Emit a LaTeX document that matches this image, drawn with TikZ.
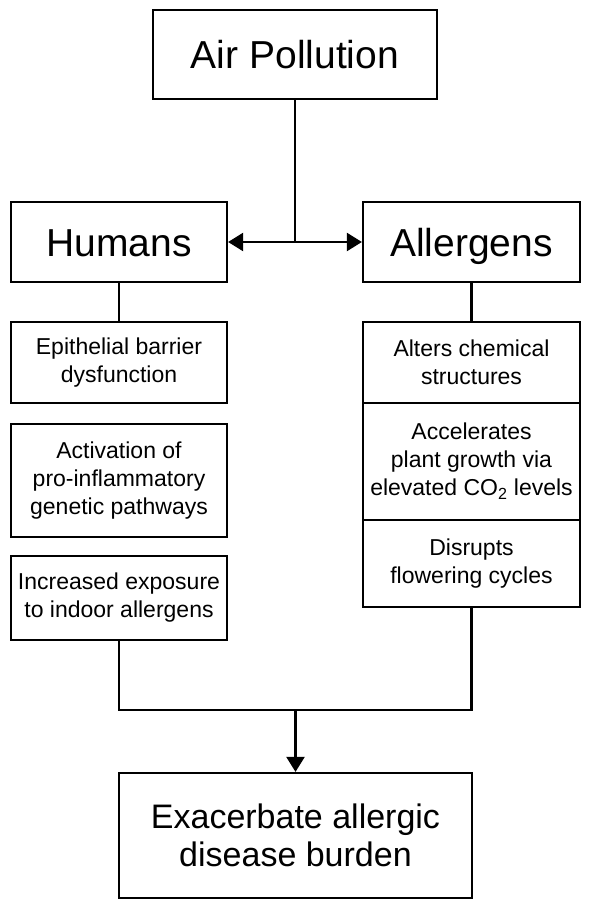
\documentclass[tikz,border=0pt]{standalone}
\usepackage{fontspec}
\setmainfont{Liberation Sans}
\usetikzlibrary{arrows.meta}
\begin{document}
\begin{tikzpicture}[x=1pt,y=-1pt,
  box/.style={draw=black,line width=2.2pt,rectangle,inner sep=0pt,align=center,
    minimum width=#1},
  box/.default=216pt,
  bigtext/.style={font=\fontsize{39}{45}\selectfont,text height=28pt,text depth=0pt},
  bodytext/.style={font=\fontsize{23}{28}\selectfont},
  endtext/.style={font=\fontsize{34}{38}\selectfont},
  conn/.style={line width=2.2pt,line join=miter},
  arr/.style={line width=2.2pt,-{Triangle[length=15pt,width=18pt]}}]
\useasboundingbox[fill=white] (0,0) rectangle (590,910);

\node[box=284pt,minimum height=89pt,bigtext] (air) at (295,54.5) {Air Pollution};
\node[box=216pt,minimum height=80pt,bigtext] (hum) at (119,242) {Humans};
\node[box=217pt,minimum height=80pt,bigtext] (all) at (471.5,242) {Allergens};

\node[box=216pt,minimum height=81pt,bodytext] (epi) at (119,362.5) {Epithelial barrier\\dysfunction};
\node[box=216pt,minimum height=113pt,bodytext] (act) at (119,480.5) {Activation of\\pro-inflammatory\\genetic pathways};
\node[box=216pt,minimum height=84pt,bodytext] (inc) at (119,598) {Increased exposure\\to indoor allergens};

\node[box=217pt,minimum height=81pt,bodytext] (alt) at (471.5,362.5) {Alters chemical\\structures};
\node[box=217pt,minimum height=117pt,bodytext] (acc) at (471.5,461.5) {Accelerates\\plant growth via\\elevated CO\textsubscript{2} levels};
\node[box=217pt,minimum height=87pt,bodytext] (dis) at (471.5,563.5) {Disrupts\\flowering cycles};

\node[box=353pt,minimum height=125pt,endtext] (exa) at (295.5,835.5) {Exacerbate allergic\\disease burden};

\coordinate (j) at (air.south |- hum.east);
\draw[conn] (air.south) -- (j);
\draw[arr] (j) -- (hum.east);
\draw[arr] (j) -- (all.west);

\draw[conn] (hum.south) -- (epi.north);
\draw[conn] (all.south) -- (alt.north);

\coordinate (bl) at (119,710);
\coordinate (br) at (bl -| dis.south);
\coordinate (bm) at (bl -| exa.north);
\draw[conn] (inc.south) -- (bl) -- (br) -- (dis.south);
\draw[arr] (bm) -- (exa.north);
\end{tikzpicture}
\end{document}
